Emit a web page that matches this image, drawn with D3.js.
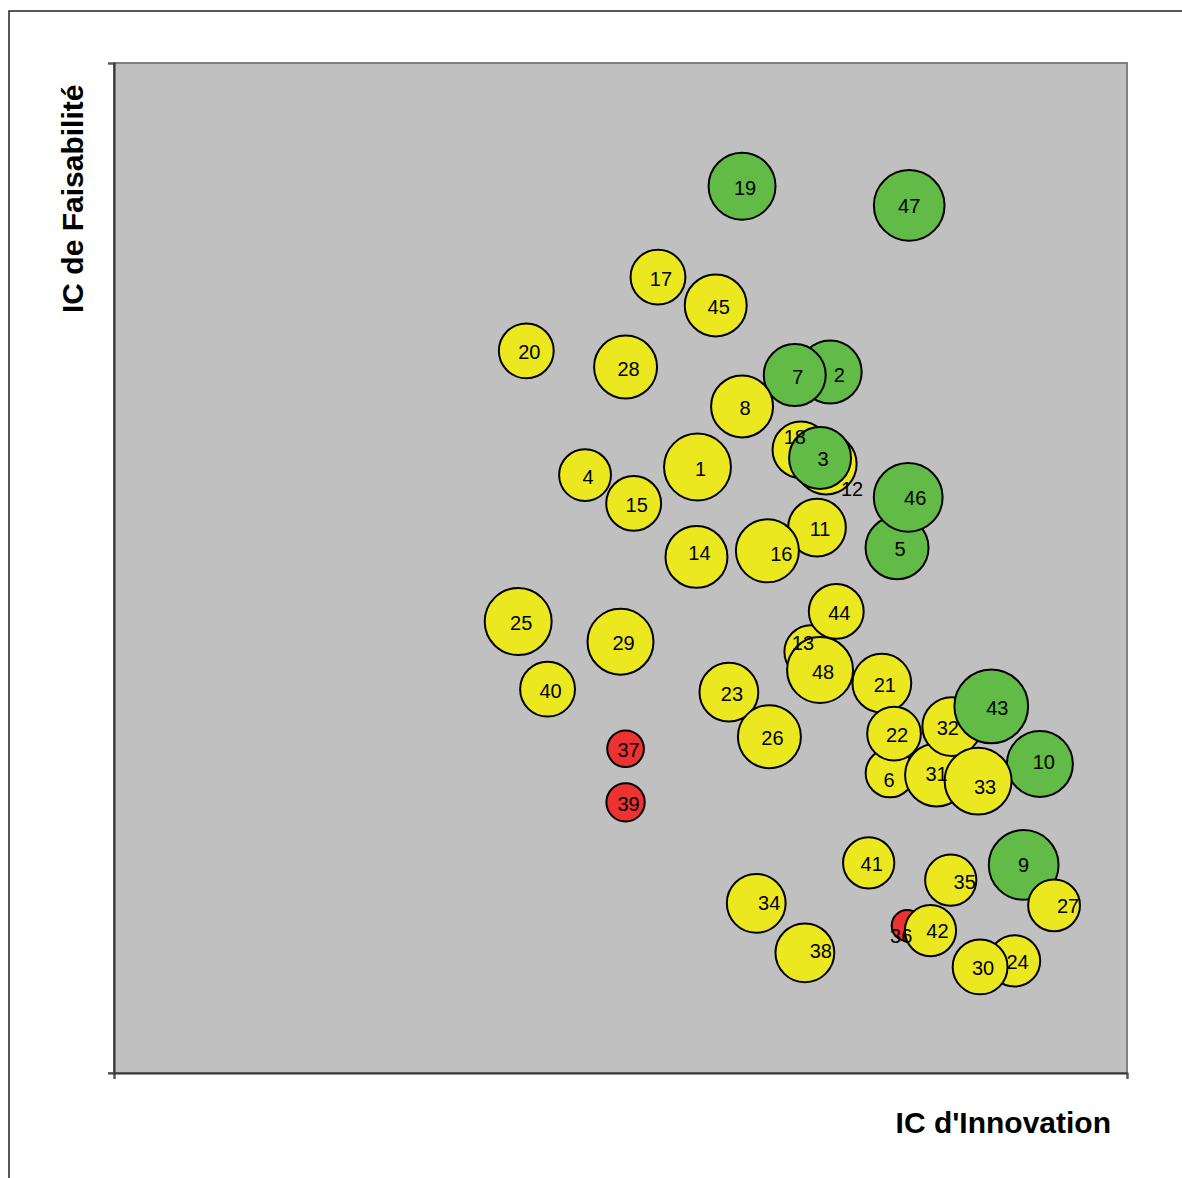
<!DOCTYPE html>
<html>
<head>
<meta charset="utf-8">
<script src="https://cdn.jsdelivr.net/npm/d3@7"></script>
<style>
  html, body { margin: 0; padding: 0; background: #fff; }
  svg { display: block; font-family: "Liberation Sans", Arial, Helvetica, sans-serif; }
</style>
</head>
<body>
<svg id="chart" width="1182" height="1178"></svg>
<script>
// ---- Data (drawing order) ----
const ids = [1, 2, 4, 5, 6, 7, 8, 9, 10, 11, 12, 13, 14, 15, 16, 17, 18, 3, 19, 20, 21, 22, 23, 24,
  25, 26, 27, 28, 29, 30, 31, 32, 33, 34, 35, 36, 37, 38, 39, 40, 41, 42, 43, 44, 45, 46, 47, 48];
// IC d'Innovation (0-100)
const innovation = [57.6, 70.7, 46.5, 77.3, 76.6, 67.2, 62.0, 89.8, 91.4, 69.4, 70.3, 68.8, 57.5, 51.3,
  64.5, 53.7, 67.8, 69.7, 62.0, 40.7, 75.8, 77.0, 60.7, 88.9, 39.9, 64.7, 92.8, 50.5, 50.0, 85.5,
  81.2, 82.7, 85.3, 63.4, 82.6, 78.3, 50.5, 68.2, 50.5, 42.8, 74.5, 80.6, 86.6, 71.3, 59.4, 78.4, 78.5, 69.7];
// IC de Faisabilité (0-100)
const faisabilite = [60.0, 69.4, 59.2, 52.0, 29.7, 69.1, 66.0, 20.6, 30.6, 54.0, 60.3, 41.7, 51.1, 56.4,
  51.7, 78.8, 61.7, 60.9, 87.8, 71.5, 38.6, 33.6, 37.7, 11.1, 44.7, 33.3, 16.6, 69.9, 42.7, 10.5,
  29.5, 34.3, 28.9, 16.8, 19.1, 14.6, 32.1, 11.9, 26.8, 38.0, 20.8, 14.1, 36.3, 45.7, 76.0, 57.0, 85.9, 39.9];
// Bubble size
const sizes = [70, 62, 42, 62, 37, 60, 60, 76, 68, 52, 58, 44, 60, 47, 62, 47, 50, 60, 70, 47, 54, 45, 54, 41,
  70, 62, 42, 62, 68, 47, 62, 54, 70, 54, 41, 15, 21, 54, 23, 47, 41, 41, 85, 47, 60, 74, 78, 68];
// Status: G = green, Y = yellow, R = red
const status = ["Y", "G", "Y", "G", "Y", "G", "Y", "G", "G", "Y", "Y", "Y", "Y", "Y", "Y", "Y", "Y", "G", "G", "Y",
  "Y", "Y", "Y", "Y", "Y", "Y", "Y", "Y", "Y", "Y", "Y", "Y", "Y", "Y", "Y", "R", "R", "Y", "R", "Y",
  "Y", "Y", "G", "Y", "Y", "G", "G", "Y"];
const xTitle = "IC d'Innovation";
const yTitle = "IC de Faisabilité";

// ---- Layout ----
const svg = d3.select("#chart");
const plot = { left: 114, top: 63, right: 1127, bottom: 1073 };
const colors = { G: "#62bb46", Y: "#ece820", R: "#ee3131" };
// small label nudges (pixels) to mimic the reference label placement
const labelNudge = { 16: [11, 2], 12: [23, 24], 18: [-9, -14], 13: [-11, -10], 6: [-4, 5], 2: [6, 1],
  35: [11, 0], 27: [11, -1], 36: [-9, 9], 34: [10, -2], 38: [13, -3], 32: [-7, 0], 46: [4, -1],
  43: [3, 0], 33: [4, 4], 42: [4, -1], 14: [0, -5], 47: [-3, -1], 9: [-3, -1], 31: [-3, -3], 10: [1, -3] };

const x = d3.scaleLinear().domain([0, 100]).range([plot.left, plot.right]);
const y = d3.scaleLinear().domain([0, 100]).range([plot.bottom, plot.top]);
const r = d3.scaleSqrt().domain([0, 100]).range([0, 40]);

// outer frame (left + top)
svg.append("path").attr("d", "M9,1178 L9,11 L1182,11")
  .attr("fill", "none").attr("stroke", "#222").attr("stroke-width", 1.5);

// plot area
svg.append("rect")
  .attr("x", plot.left).attr("y", plot.top)
  .attr("width", plot.right - plot.left).attr("height", plot.bottom - plot.top)
  .attr("fill", "#c0c0c0").attr("stroke", "#808080").attr("stroke-width", 2);

// axes (no tick labels)
const xAxis = d3.axisBottom(x).tickValues([0, 100]).tickSize(6).tickFormat("");
const yAxis = d3.axisLeft(y).tickValues([100]).tickSize(6).tickFormat("");
const gx = svg.append("g").attr("transform", `translate(0,${plot.bottom})`).call(xAxis);
const gy = svg.append("g").attr("transform", `translate(${plot.left},0)`).call(yAxis);
[gx, gy].forEach(g => {
  g.select(".domain").attr("stroke", "#333").attr("stroke-width", 2);
  g.selectAll(".tick line").attr("stroke", "#555").attr("stroke-width", 1.5);
});
// left axis tick at bottom end
svg.append("line").attr("x1", plot.left - 6).attr("x2", plot.left)
  .attr("y1", y(0)).attr("y2", y(0)).attr("stroke", "#555").attr("stroke-width", 1.5);

// bubbles
const data = ids.map((id, i) => ({ id, xv: innovation[i], yv: faisabilite[i], s: sizes[i], st: status[i] }));
svg.append("g").selectAll("circle").data(data).join("circle")
  .attr("cx", d => x(d.xv)).attr("cy", d => y(d.yv)).attr("r", d => r(d.s))
  .attr("fill", d => colors[d.st]).attr("stroke", "#000").attr("stroke-width", 2);

// labels on top
svg.append("g").selectAll("text").data(data).join("text")
  .attr("x", d => x(d.xv) + 3 + (labelNudge[d.id] || [0, 0])[0])
  .attr("y", d => y(d.yv) + 8.5 + (labelNudge[d.id] || [0, 0])[1])
  .attr("text-anchor", "middle").attr("font-size", 20).attr("fill", "#000")
  .text(d => d.id);

// axis titles
svg.append("text").attr("x", 1111).attr("y", 1133).attr("text-anchor", "end")
  .attr("font-size", 30).attr("font-weight", "bold").text(xTitle);
svg.append("text").attr("transform", "translate(83,313) rotate(-90)")
  .attr("text-anchor", "start").attr("font-size", 30).attr("font-weight", "bold").text(yTitle);
</script>
</body>
</html>
